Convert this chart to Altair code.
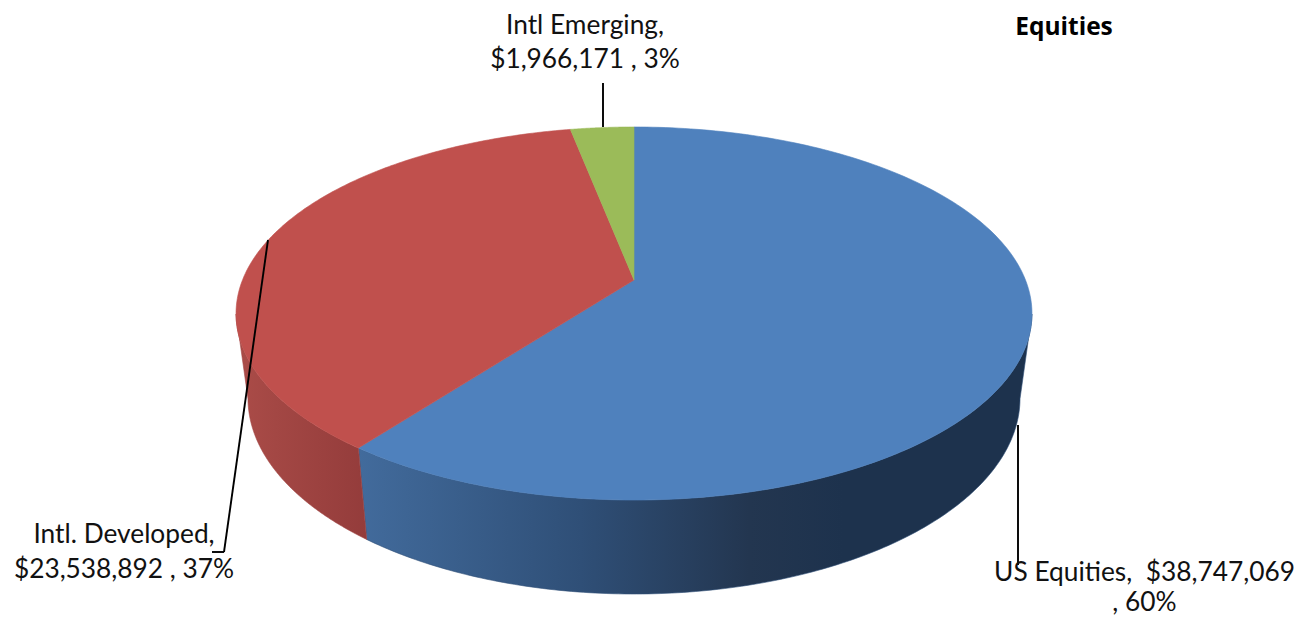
import numpy as np
import pandas as pd
import altair as alt

# ---- values ----
categories = ["US Equities", "Intl. Developed", "Intl Emerging"]
amounts = [38747069, 23538892, 1966171]
top_colors = ["#4f81bd", "#c0504d", "#9bbb59"]

title_text = ["Equities"]
title_x = [1064]
title_y = [34.5]

label_text = ["Intl Emerging,", "$1,966,171 , 3%", "Intl. Developed,", "$23,538,892 , 37%",
              "US Equities, \u00a0$38,747,069", ", 60%"]
label_x = [585, 585, 124, 124, 1144.5, 1144.5]
label_y = [34, 68, 543, 578, 581, 611]

lead_x = [603, 268, 224, 1018]
lead_y = [83, 240, 552, 425]
lead_x2 = [603, 224, 212, 1018]
lead_y2 = [127, 552, 552, 565]

# perspective of the pie, in picture pixels
CX, CY, AY, AX, K = 634.0, 280.0, 180.5, 391.5, 0.1796
SHRINK, Y_BOTTOM, Y_SLOPE = 0.97, 594.0, 1.05

def top_rim(deg):
    t = np.radians(deg)
    u, v = np.sin(t), np.cos(t)
    return CX + AX * u / (1 + K * v), CY - AY * v / (1 + K * v)

def bottom_rim(deg):
    x, y = top_rim(deg)
    return CX + (x - CX) * SHRINK, Y_BOTTOM + (y - 500.0) * Y_SLOPE

shares = np.array(amounts) / sum(amounts)
edges = np.concatenate([[0], np.cumsum(shares) * 360])

X = alt.X("x:Q", axis=None, scale=alt.Scale(domain=[8, 1296], nice=False, zero=False))
Y = alt.Y("y:Q", axis=None, scale=alt.Scale(domain=[617, 8], nice=False, zero=False))

def polygon(xs, ys, fill, stroke):
    df = pd.DataFrame({"x": xs, "y": ys, "i": range(len(xs))})
    return alt.Chart(df).mark_line(
        interpolate="linear-closed", fill=fill, stroke=stroke, strokeWidth=0.6
    ).encode(x=X, y=Y, order="i:Q")

def wall(a0, a1, fill, stroke):
    deg = np.linspace(a0, a1, 160)
    tx, ty = top_rim(deg)
    bx, by = bottom_rim(deg)
    return polygon(np.concatenate([tx, bx[::-1]]), np.concatenate([ty, by[::-1]]), fill, stroke)

def wedge(a0, a1, color):
    deg = np.linspace(a0, a1, 200)
    tx, ty = top_rim(deg)
    return polygon(np.concatenate([[CX], tx]), np.concatenate([[CY], ty]), color, color)

blue_wall = alt.Gradient(gradient="linear", x1=0, y1=0, x2=1, y2=0, stops=[
    alt.GradientStop(color="#426b9c", offset=0),
    alt.GradientStop(color="#2f4f77", offset=0.33),
    alt.GradientStop(color="#233650", offset=0.58),
    alt.GradientStop(color="#1d324d", offset=0.72),
    alt.GradientStop(color="#1d324d", offset=1),
])
red_wall = alt.Gradient(gradient="linear", x1=0, y1=0, x2=1, y2=0, stops=[
    alt.GradientStop(color="#ab4c48", offset=0),
    alt.GradientStop(color="#a34744", offset=0.3),
    alt.GradientStop(color="#943c3b", offset=1),
])

layers = [
    wall(100.5, edges[1], blue_wall, "#2f4f77"),
    wall(edges[1], 259.5, red_wall, "#a34744"),
]
for i, c in enumerate(top_colors):
    layers.append(wedge(edges[i], edges[i + 1], c))

leaders = alt.Chart(pd.DataFrame({"x": lead_x, "y": lead_y, "x2": lead_x2, "y2": lead_y2})).mark_rule(
    color="#000000", strokeWidth=1.9
).encode(x=X, y=Y, x2="x2:Q", y2="y2:Q")

labels = alt.Chart(pd.DataFrame({"x": label_x, "y": label_y, "t": label_text})).mark_text(
    font="Lato", fontSize=26.3, color="#111111", align="center", baseline="alphabetic"
).encode(x=X, y=Y, text="t:N")

title = alt.Chart(pd.DataFrame({"x": title_x, "y": title_y, "t": title_text})).mark_text(
    font="Open Sans", fontSize=24.5, fontWeight="bold", color="#000000", align="center", baseline="alphabetic"
).encode(x=X, y=Y, text="t:N")

chart = alt.layer(*layers, leaders, labels, title).properties(
    width=1288, height=609, padding=0, autosize=alt.AutoSizeParams(type="none")
).configure_view(stroke=None)

chart.save("out.html", embed_options={"renderer": "svg", "actions": False})
